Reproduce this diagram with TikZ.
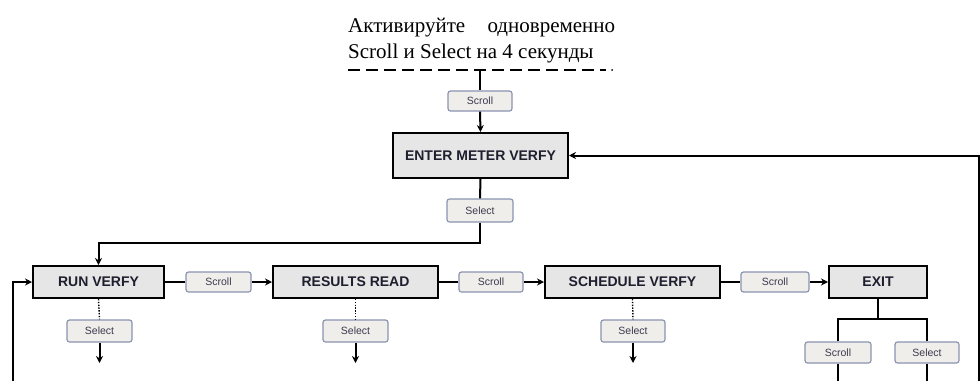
\documentclass[tikz,border=0pt]{standalone}
\usepackage{fontspec}
\setmainfont{Liberation Serif}
\newfontfamily\arialf{Liberation Sans}
\usetikzlibrary{arrows.meta}
\definecolor{boxfill}{HTML}{E6E6E6}
\definecolor{btnfill}{HTML}{EFEEEA}
\definecolor{btnedge}{HTML}{8A94B0}
\definecolor{btntext}{HTML}{3C3A50}
\definecolor{boxtext}{HTML}{1E1E2E}
\tikzset{
  mainbox/.style={draw=black, line width=2pt, fill=boxfill, inner sep=0pt,
    font=\arialf\bfseries\fontsize{14}{15}\selectfont, text=boxtext},
  btn/.style={draw=btnedge, line width=1.2pt, fill=btnfill, rounded corners=2.5pt,
    inner sep=0pt, font=\arialf\fontsize{10.5}{11}\selectfont, text=btntext,
    minimum height=20pt},
  conn/.style={draw=black, line width=2pt},
  arr/.style={conn, -{Stealth[length=7pt,width=7pt]}},
  dots/.style={draw=black, line width=1.4pt, dash pattern=on 1.4pt off 1.4pt}
}
\begin{document}
\begin{tikzpicture}[x=1pt,y=-1pt]
\useasboundingbox (0,0) rectangle (980,381);
% title text
\node[anchor=south west, inner sep=0pt, font=\fontsize{21}{26}\selectfont] (t1) at (348,37)
  {\makebox[267pt][s]{Активируйте\hfill одновременно}};
\node[anchor=south west, inner sep=0pt, font=\fontsize{21}{26}\selectfont] (t2) at (348,63)
  {Scroll и Select на 4 секунды};
\coordinate (dl) at (348,70);
\coordinate (dr) at (606,70);
\coordinate (dd) at (612,70);
\draw[line width=1.8pt, dash pattern=on 12pt off 6pt] (dl) -- (dr);
\fill (dd) circle (1pt);
\coordinate (dtop) at (480,70);
% top part
\node[btn, minimum width=64pt] (sc0) at (480,101) {Scroll};
\node[mainbox, minimum width=175pt, minimum height=45pt] (enter) at (480.5,155.5) {ENTER METER VERFY};
\node[btn, minimum width=66pt, minimum height=23pt] (se0) at (480,210.5) {Select};
\draw[conn] (dtop) -- (sc0.north);
\draw[arr] (sc0.south) -- (enter.north);
\draw[conn] (enter.south) -- (se0.north);
% main row
\node[mainbox, minimum width=131pt, minimum height=32pt] (run) at (98.5,282) {RUN VERFY};
\node[btn, minimum width=65pt] (sc1) at (218.5,282) {Scroll};
\node[mainbox, minimum width=165pt, minimum height=32pt] (res) at (355.5,282) {RESULTS READ};
\node[btn, minimum width=64pt] (sc2) at (491,282) {Scroll};
\node[mainbox, minimum width=175pt, minimum height=32pt] (sch) at (632.5,282) {SCHEDULE VERFY};
\node[btn, minimum width=68pt] (sc3) at (775,282) {Scroll};
\node[mainbox, minimum width=98pt, minimum height=32pt] (exit) at (878,282) {EXIT};
\draw[arr] (se0.south) -- (480,243) -| (run.north);
\draw[conn] (run.east) -- (sc1.west);
\draw[arr] (sc1.east) -- (res.west);
\draw[conn] (res.east) -- (sc2.west);
\draw[arr] (sc2.east) -- (sch.west);
\draw[conn] (sch.east) -- (sc3.west);
\draw[arr] (sc3.east) -- (exit.west);
% selects under boxes
\node[btn, minimum width=65pt, minimum height=22pt] (se1) at (99.5,331) {Select};
\node[btn, minimum width=65pt, minimum height=22pt] (se2) at (355.5,331) {Select};
\node[btn, minimum width=64pt, minimum height=22pt] (se3) at (633,331) {Select};
\draw[dots] (run.south) -- (se1.north);
\draw[dots] (res.south) -- (se2.north);
\draw[dots] (sch.south) -- (se3.north);
\coordinate (o1) at (99.5,363);
\coordinate (o2) at (355.5,363);
\coordinate (o3) at (633,363);
\draw[arr] (se1.south) -- (o1);
\draw[arr] (se2.south) -- (o2);
\draw[arr] (se3.south) -- (o3);
% exit branch
\node[btn, minimum width=66pt, minimum height=21pt] (sc4) at (838,352.5) {Scroll};
\node[btn, minimum width=64pt, minimum height=21pt] (se4) at (927,352.5) {Select};
\coordinate (ej) at (878,319);
\draw[conn] (exit.south) -- (ej);
\draw[conn] (sc4.north) |- (ej) -| (se4.north);
\coordinate (e1) at (838,381);
\coordinate (e2) at (927,381);
\draw[conn] (sc4.south) -- (e1);
\draw[conn] (se4.south) -- (e2);
% loops
\coordinate (lb) at (13,381);
\draw[arr] (lb) |- (run.west);
\coordinate (rb) at (979,381);
\draw[arr] (rb) |- (enter.east);
\end{tikzpicture}
\end{document}
